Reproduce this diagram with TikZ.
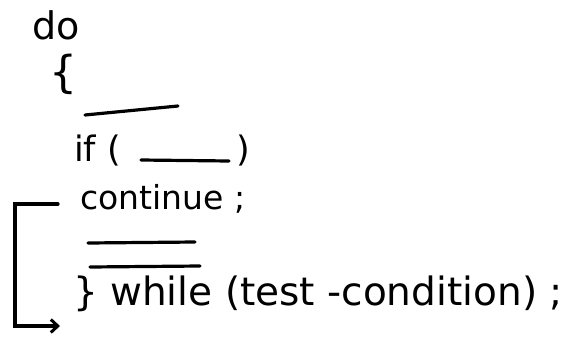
\documentclass[tikz,border=0pt]{standalone}
\usepackage{fontspec}
\setmainfont{DejaVu Sans}
\usetikzlibrary{arrows.meta}
\begin{document}
\begin{tikzpicture}[x=1pt,y=1pt,
  code/.style={inner sep=0pt,anchor=base west,font=\fontsize{33}{36}\selectfont},
  stroke/.style={line width=3.2pt,line cap=round},
  jump/.style={stroke,-{Straight Barb[length=7pt,width=13pt,line width=3pt]}}]
\useasboundingbox (0,0) rectangle (576,-338);
\node[code,font=\fontsize{38}{40}\selectfont] (do) at (32,-39) {do};
\node[code,anchor=center,font=\fontsize{44}{48}\selectfont] (brace) at (63,-74) {\{};
\draw[stroke] (85,-115) -- (178,-106);
\node[code,font=\fontsize{35}{40}\selectfont] (if) at (74,-161) {if (};
\draw[stroke] (141,-160) -- (229,-161);
\node[code,font=\fontsize{35}{40}\selectfont] (rp) at (236,-161) {)};
\node[code] (cont) at (80,-209) {continue ;};
\draw[stroke] (88,-243) -- (195,-242);
\draw[stroke] (90,-267) -- (200,-266);
\node[code,font=\fontsize{39}{42}\selectfont] (wh) at (73,-305) {\} while (test -condition) ;};
\coordinate (js) at (58,-204);
\coordinate (jt) at (60,-326);
\draw[jump] (js) -- (15,-204) -- (15,-326) -- (jt);
\end{tikzpicture}
\end{document}
